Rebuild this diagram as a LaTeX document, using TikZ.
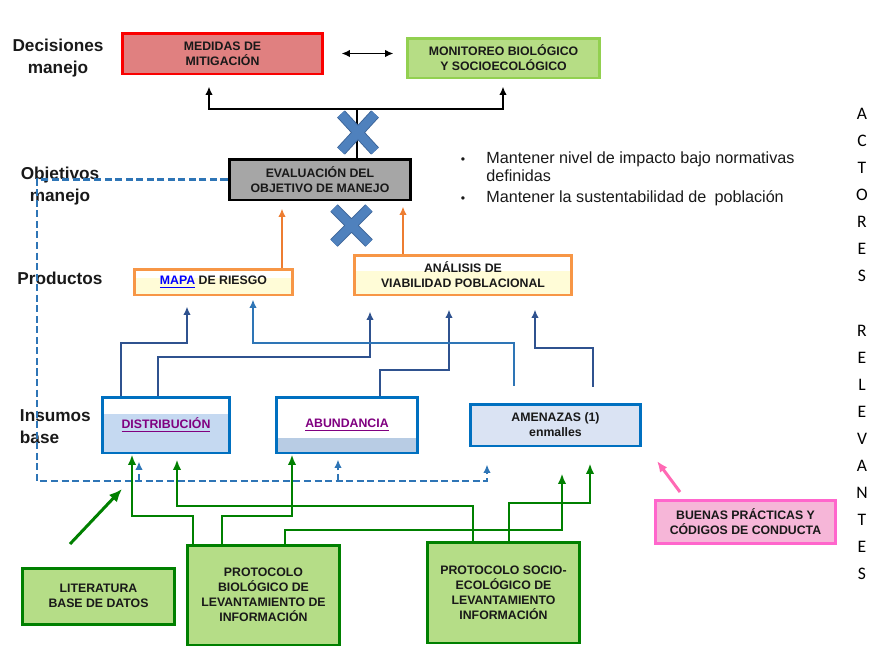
\documentclass[tikz,border=0pt]{standalone}
\usepackage{fontspec}
\setmainfont{Liberation Sans}
\newfontfamily\carlito{Carlito}
\usetikzlibrary{arrows.meta}

\definecolor{mitigfill}{RGB}{224,128,128}
\definecolor{mitigline}{RGB}{250,0,0}
\definecolor{monitfill}{RGB}{182,221,133}
\definecolor{monitline}{RGB}{146,208,80}
\definecolor{evalfill}{RGB}{166,166,166}
\definecolor{prodline}{RGB}{247,150,70}
\definecolor{prodband}{RGB}{255,252,215}
\definecolor{insline}{RGB}{0,112,192}
\definecolor{distfill}{RGB}{197,217,241}
\definecolor{abundband}{RGB}{184,204,228}
\definecolor{amenfill}{RGB}{218,227,243}
\definecolor{protfill}{RGB}{181,221,135}
\definecolor{protline}{RGB}{0,128,0}
\definecolor{bpfill}{RGB}{246,182,216}
\definecolor{bpline}{RGB}{255,102,204}
\definecolor{navyarrow}{RGB}{47,82,143}
\definecolor{linkarrow}{RGB}{46,117,182}
\definecolor{orangearrow}{RGB}{237,125,49}
\definecolor{greenarrow}{RGB}{0,128,0}
\definecolor{pinkarrow}{RGB}{255,105,180}
\definecolor{crossblue}{RGB}{79,129,189}
\definecolor{crossedge}{RGB}{58,98,150}
\definecolor{linkpurple}{RGB}{128,0,128}
\definecolor{linkblue}{RGB}{0,0,255}
\definecolor{boxtext}{RGB}{25,25,25}

\newcommand\boxtxt{\fontsize{7}{8.5}\selectfont\bfseries}
\newcommand\rowlbl{\fontsize{9.8}{12.5}\selectfont\bfseries}
\newcommand\metatxt{\fontsize{9.2}{10.3}\selectfont}

\begin{document}
\begin{tikzpicture}[x=0.02cm,y=-0.02cm,line width=1.1pt,>={Latex[length=1.7mm,width=1.5mm]},
  box/.style={draw,line width=1.7pt,align=center,inner sep=0pt,text=boxtext,font=\boxtxt},
  lbl/.style={align=center,inner sep=0pt,text=boxtext,font=\rowlbl},
  prod/.style={box,draw=prodline,fill=white,
    path picture={\fill[prodband] (path picture bounding box.south west) rectangle ([yshift=2pt]path picture bounding box.east);}},
  prot/.style={box,draw=protline,fill=protfill},
  navy/.style={navyarrow,->},
  grn/.style={greenarrow,line width=1.4pt,->,>={Latex[length=2.1mm,width=1.7mm]}},
  dashblue/.style={linkarrow,line width=1.3pt,dash pattern=on 4pt off 2pt},
  xmark/.style={line width=5pt}]
  \useasboundingbox (0,0) rectangle (869,650);

  % row labels
  \node[lbl] (decis) at (58,58) {Decisiones\\manejo};
  \node[lbl] (objet) at (60,186) {Objetivos\\manejo};
  \node[lbl] (produc) at (60,278) {Productos};
  \node[lbl,align=left,anchor=west] (insum) at (19,427) {Insumos\\base};

  % decisions
  \node[box,draw=mitigline,fill=mitigfill,minimum width=4.02cm,minimum height=0.82cm] (mitig) at (222.5,53.5) {MEDIDAS DE\\MITIGACIÓN};
  \node[box,draw=monitline,fill=monitfill,minimum width=3.86cm,minimum height=0.8cm] (monit) at (503.5,58) {MONITOREO BIOLÓGICO\\Y SOCIOECOLÓGICO};
  \node[box,draw=black,fill=evalfill,minimum width=3.64cm,minimum height=0.82cm] (eval) at (320,179.5) {EVALUACIÓN DEL\\OBJETIVO DE MANEJO};
  \node[anchor=north west,inner sep=0pt,font=\metatxt,text=boxtext] (metas) at (460,150)
    {\begin{tabular}{@{}l@{\hspace{12pt}}l@{}}
      {\scriptsize\textbullet} & Mantener nivel de impacto bajo normativas\\
      & definidas\\[1.5pt]
      {\scriptsize\textbullet} & Mantener la sustentabilidad de\enspace población
    \end{tabular}};

  % products
  \node[prod,minimum width=3.18cm,minimum height=0.52cm] (mapa) at (213.5,282)
    {\textcolor{linkblue}{\underline{MAPA}} DE RIESGO};
  \node[prod,minimum width=4.36cm,minimum height=0.8cm] (avp) at (463,275) {ANÁLISIS DE\\VIABILIDAD POBLACIONAL};

  % inputs
  \node[box,draw=insline,fill=distfill,minimum width=2.56cm,minimum height=1.12cm,
    path picture={\fill[white] (path picture bounding box.north west) rectangle ([yshift=-9.6pt]path picture bounding box.north east);}]
    (dist) at (166,425) {\textcolor{linkpurple}{\underline{DISTRIBUCIÓN}}};
  \node[box,draw=insline,fill=white,minimum width=2.84cm,minimum height=1.12cm,
    path picture={\fill[abundband] (path picture bounding box.south west) rectangle ([yshift=8.5pt]path picture bounding box.south east);}]
    (abund) at (347,425) {\textcolor{linkpurple}{\underline{ABUNDANCIA}}};
  \node[box,draw=insline,fill=amenfill,minimum width=3.42cm,minimum height=0.84cm] (amen) at (555.5,425) {AMENAZAS (1)\\enmalles};

  % sources
  \node[prot,minimum width=3.06cm,minimum height=1.12cm] (lit) at (98.5,596) {LITERATURA\\BASE DE DATOS};
  \node[prot,minimum width=3.06cm,minimum height=2cm] (pbio) at (263.5,595) {PROTOCOLO\\BIOLÓGICO DE\\LEVANTAMIENTO DE\\INFORMACIÓN};
  \node[prot,minimum width=3.06cm,minimum height=2.02cm] (psoc) at (503.5,592.5) {PROTOCOLO SOCIO-\\ECOLÓGICO DE\\LEVANTAMIENTO\\INFORMACIÓN};
  \node[box,draw=bpline,fill=bpfill,minimum width=3.62cm,minimum height=0.86cm] (buenas) at (745.5,521.5) {BUENAS PRÁCTICAS Y\\CÓDIGOS DE CONDUCTA};

  \node[font=\carlito\fontsize{10}{15.4}\selectfont,align=center,inner sep=0pt] (actores) at (862,344)
    {A\\C\\T\\O\\R\\E\\S\\[15.4pt]R\\E\\L\\E\\V\\A\\N\\T\\E\\S};

  % decision tree
  \coordinate (fork) at (357,109);
  \draw (eval.north -| fork) -- (fork);
  \draw[->,shorten >=0.22cm] (fork) -| (mitig.south -| 209,0);
  \draw[->,shorten >=0.14cm] (fork) -| (monit.south -| 503,0);
  \draw[<->,shorten <=0.34cm,shorten >=0.24cm] (mitig.east) -- (monit.west |- mitig.east);

  % products to evaluation
  \draw[orangearrow,->,shorten >=0.14cm] (mapa.north -| 282,0) -- (eval.south -| 282,0);
  \draw[orangearrow,->,shorten >=0.1cm] (avp.north -| 403,0) -- (eval.south -| 403,0);

  % crosses
  \draw[xmark,crossedge,line width=6pt] (341,114) -- (375,151) (341,151) -- (375,114)
    (334,208) -- (369,243) (334,243) -- (369,208);
  \draw[xmark,crossblue] (341,114) -- (375,151) (341,151) -- (375,114)
    (334,208) -- (369,243) (334,243) -- (369,208);

  % inputs to products
  \draw[navy,shorten >=0.2cm] (dist.north -| 121,0) |- (187,343) -- (mapa.south -| 187,0);
  \draw[navy,shorten >=0.3cm] (dist.north -| 158,0) |- (370,357) -- (avp.south -| 370,0);
  \draw[navy,shorten >=0.26cm] (abund.north -| 380,0) |- (449,370) -- (avp.south -| 449,0);
  \draw[navy,shorten <=0.32cm,shorten >=0.26cm] (amen.north -| 593,0) |- (535,348) -- (avp.south -| 535,0);
  \draw[linkarrow,->,shorten <=0.34cm,shorten >=0.06cm] (amen.north -| 514,0) |- (253,343) -- (mapa.south -| 253,0);

  % feedback loop
  \coordinate (dcorner) at (37,481);
  \draw[dashblue,->,shorten >=0.34cm] (eval.west) -| (dcorner) -| (amen.south -| 487,0);
  \draw[dashblue,->,shorten >=0.14cm] (dcorner -| 139,0) -- (dist.south -| 139,0);
  \draw[dashblue,->,shorten >=0.1cm] (dcorner -| 338,0) -- (abund.south -| 338,0);

  % field protocols to inputs
  \draw[grn] (pbio.north -| 193,0) |- (132,516) -- (dist.south -| 132,0);
  \draw[grn,shorten >=0.1cm] (psoc.north -| 473,0) |- (177,506) -- (dist.south -| 177,0);
  \draw[grn] (pbio.north -| 222,0) |- (292,516) -- (abund.south -| 292,0);
  \draw[grn,shorten >=0.52cm] (pbio.north -| 285,0) |- (562,530) -- (amen.south -| 562,0);
  \draw[grn,shorten >=0.32cm] (psoc.north -| 509,0) |- (590,503) -- (amen.south -| 590,0);

  \coordinate (litTail) at (70,544);
  \coordinate (litHead) at (122,489);
  \draw[grn,line width=1.7pt,>={Latex[length=2.6mm,width=2.2mm]}] (litTail) -- (litHead);
  \coordinate (bpTail) at (680,492);
  \coordinate (bpHead) at (657,461);
  \draw[pinkarrow,line width=1.7pt,->,>={Latex[length=2.2mm,width=1.8mm]}] (bpTail) -- (bpHead);
\end{tikzpicture}
\end{document}
